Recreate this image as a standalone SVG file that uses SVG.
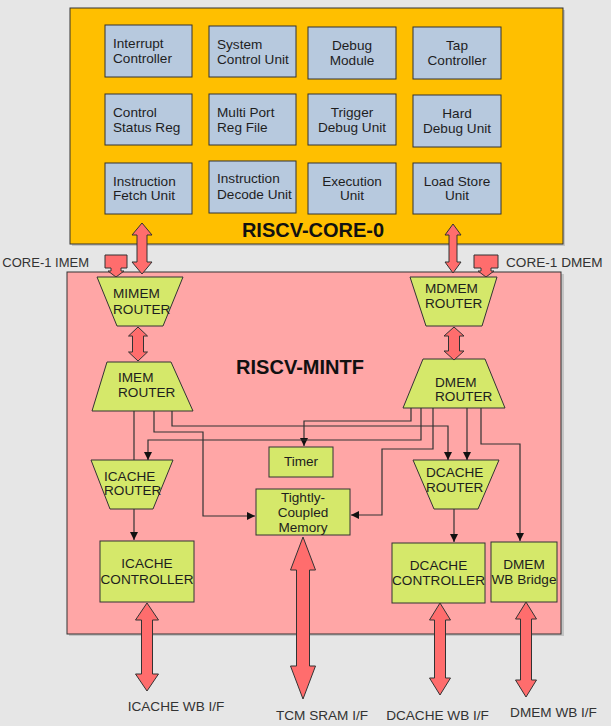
<svg xmlns="http://www.w3.org/2000/svg" width="611" height="726" viewBox="0 0 611 726">
<defs>
<style>
.t{font-family:"Liberation Sans",Arial,sans-serif;font-size:13.6px;fill:#1e1e1e}
.c{text-anchor:middle}
.lbl{font-family:"Liberation Sans",Arial,sans-serif;font-size:13.6px;fill:#333}
.title{font-family:"Liberation Sans",Arial,sans-serif;font-size:20px;font-weight:bold;fill:#111}
.core{fill:#b7c9de;stroke:#333;stroke-width:1}
.grn{fill:#d5e86a;stroke:#333;stroke-width:1}
.big{fill:#ff6d6d;stroke:#333;stroke-width:1}
.ln{fill:none;stroke:#333;stroke-width:1.2}
</style>
<marker id="ah" viewBox="0 0 10 10" refX="10" refY="5" markerWidth="8" markerHeight="8" markerUnits="userSpaceOnUse" orient="auto">
<path d="M0,0 L10,5 L0,10 z" fill="#111"/>
</marker>
</defs>
<rect x="0" y="0" width="611" height="726" fill="#e6e6e6"/>

<g id="riscv-core-0">
<rect x="72" y="10" width="493" height="236" fill="#c4c4c4"/>
<rect x="70" y="8" width="493" height="236" fill="#ffbf00" stroke="#333" stroke-width="1"/>
<text class="title" x="313" y="237" text-anchor="middle">RISCV-CORE-0</text>
</g>

<g id="interrupt-controller"><rect class="core" x="105" y="25" width="87" height="52"/><text class="t" x="113" y="48">Interrupt</text><text class="t" x="113" y="63">Controller</text></g>
<g id="system-control-unit"><rect class="core" x="209" y="26" width="87" height="51"/><text class="t" x="217" y="49">System</text><text class="t" x="217" y="64">Control Unit</text></g>
<g id="debug-module"><rect class="core" x="308" y="27" width="88" height="52"/><text class="t c" x="352" y="50">Debug</text><text class="t c" x="352" y="65">Module</text></g>
<g id="tap-controller"><rect class="core" x="413" y="27" width="88" height="52"/><text class="t c" x="457" y="50">Tap</text><text class="t c" x="457" y="65">Controller</text></g>
<g id="control-status-reg"><rect class="core" x="105" y="94" width="87" height="51"/><text class="t" x="113" y="117">Control</text><text class="t" x="113" y="132">Status Reg</text></g>
<g id="multi-port-reg-file"><rect class="core" x="209" y="94" width="87" height="51"/><text class="t" x="217" y="117">Multi Port</text><text class="t" x="217" y="132">Reg File</text></g>
<g id="trigger-debug-unit"><rect class="core" x="308" y="94" width="88" height="51"/><text class="t c" x="352" y="117">Trigger</text><text class="t c" x="352" y="132">Debug Unit</text></g>
<g id="hard-debug-unit"><rect class="core" x="413" y="95" width="88" height="52"/><text class="t c" x="457" y="118">Hard</text><text class="t c" x="457" y="133">Debug Unit</text></g>
<g id="instruction-fetch-unit"><rect class="core" x="105" y="163" width="87" height="51"/><text class="t" x="113" y="186">Instruction</text><text class="t" x="113" y="200">Fetch Unit</text></g>
<g id="instruction-decode-unit"><rect class="core" x="209" y="161" width="87" height="52"/><text class="t" x="217" y="183">Instruction</text><text class="t" x="217" y="199">Decode Unit</text></g>
<g id="execution-unit"><rect class="core" x="308" y="163" width="88" height="51"/><text class="t c" x="352" y="186">Execution</text><text class="t c" x="352" y="200">Unit</text></g>
<g id="load-store-unit"><rect class="core" x="413" y="163" width="88" height="51"/><text class="t c" x="457" y="186">Load Store</text><text class="t c" x="457" y="200">Unit</text></g>

<g id="riscv-mintf">
<rect x="69" y="274" width="495" height="362" fill="#c4c4c4"/>
<rect x="67" y="272" width="494" height="362" fill="#ffa6a6" stroke="#333" stroke-width="1"/>
<text class="title" x="300" y="374" text-anchor="middle">RISCV-MINTF</text>
</g>

<g id="core-1-imem">
<polygon class="big" points="105,255 127,255 127,268 121,268 121,271 124,271 116,277 108,271 111,271 111,268 105,268"/>
<text class="lbl" x="89" y="267" text-anchor="end" style="font-size:13px">CORE-1 IMEM</text>
</g>
<g id="core-1-dmem">
<polygon class="big" points="474,255 498,255 498,268 491,268 491,271 494,271 486,277 478,271 481,271 481,268 474,268"/>
<text class="lbl" x="506" y="267">CORE-1 DMEM</text>
</g>

<g id="mimem-router"><polygon class="grn" points="97,277 183,277 163,326 117,326"/><text class="t" x="113" y="298">MIMEM</text><text class="t" x="113" y="314">ROUTER</text></g>
<g id="imem-router"><polygon class="grn" points="107,362 171,362 193,411 92,411"/><text class="t" x="118" y="382">IMEM</text><text class="t" x="118" y="397">ROUTER</text></g>
<g id="mdmem-router"><polygon class="grn" points="410,277 497,277 482,326 426,326"/><text class="t" x="425" y="293">MDMEM</text><text class="t" x="425" y="308">ROUTER</text></g>
<g id="dmem-router"><polygon class="grn" points="423,359 485,359 505,408 403,408"/><text class="t" x="435" y="387">DMEM</text><text class="t" x="435" y="401">ROUTER</text></g>
<g id="icache-router"><polygon class="grn" points="91,460 173,460 153,509 110,509"/><text class="t" x="104" y="481">ICACHE</text><text class="t" x="104" y="495">ROUTER</text></g>
<g id="dcache-router"><polygon class="grn" points="413,460 499,460 478,509 434,509"/><text class="t" x="426" y="477">DCACHE</text><text class="t" x="426" y="492">ROUTER</text></g>
<g id="timer"><rect class="grn" x="269" y="447" width="64" height="30"/><text class="t c" x="301" y="466">Timer</text></g>
<g id="tcm"><rect class="grn" x="256" y="489" width="94" height="46"/><text class="t c" x="303" y="502">Tightly-</text><text class="t c" x="303" y="517">Coupled</text><text class="t c" x="303" y="532">Memory</text></g>
<g id="icache-controller"><rect class="grn" x="100" y="541" width="94" height="61"/><text class="t c" x="147" y="568">ICACHE</text><text class="t c" x="147" y="584">CONTROLLER</text></g>
<g id="dcache-controller"><rect class="grn" x="392" y="543" width="93" height="60"/><text class="t c" x="438.5" y="570">DCACHE</text><text class="t c" x="438.5" y="585">CONTROLLER</text></g>
<g id="dmem-wb-bridge"><rect class="grn" x="491" y="542" width="66" height="60"/><text class="t c" x="524" y="569">DMEM</text><text class="t c" x="524" y="584">WB Bridge</text></g>

<g id="connectors">
<polygon class="big" points="142,223 152,235 147,235 147,262 152,262 142,274 132,262 137,262 137,235 132,235"/>
<polygon class="big" points="453,224 461,235 457,235 457,262 461,262 453,273 445,262 449,262 449,235 445,235"/>
<polygon class="big" points="138,327 147.5,336 143.5,336 143.5,352 147.5,352 138,361 128.5,352 132.5,352 132.5,336 128.5,336"/>
<polygon class="big" points="454,327 464,336 459.5,336 459.5,351 464,351 454,360 444,351 448.5,351 448.5,336 444,336"/>
<path class="ln" d="M134,411 V460"/>
<path class="ln" d="M154,411 V432 H203 V516 H255" marker-end="url(#ah)"/>
<path class="ln" d="M172,411 V426 H448 V460" marker-end="url(#ah)"/>
<path class="ln" d="M411,408 V421 H304 V446" marker-end="url(#ah)"/>
<path class="ln" d="M421,408 V440 H148 V460" marker-end="url(#ah)"/>
<path class="ln" d="M433,408 V449 H382 V515 H351" marker-end="url(#ah)"/>
<path class="ln" d="M467,408 V460" marker-end="url(#ah)"/>
<path class="ln" d="M481,408 V444 H520 V541" marker-end="url(#ah)"/>
<path class="ln" d="M134,509 V540" marker-end="url(#ah)"/>
<path class="ln" d="M454,509 V542" marker-end="url(#ah)"/>
<polygon class="big" points="147,603 158.5,620 152.5,620 152.5,674 158.5,674 147,691 135.5,674 141.5,674 141.5,620 135.5,620"/>
<polygon class="big" points="303,537 315.5,570 309.5,570 309.5,666 315.5,666 303,699 290.5,666 296.5,666 296.5,570 290.5,570"/>
<polygon class="big" points="440,603 450.5,620 445.5,620 445.5,678 450.5,678 440,695 429.5,678 434.5,678 434.5,620 429.5,620"/>
<polygon class="big" points="526,602 536.5,619 531.5,619 531.5,680 536.5,680 526,697 515.5,680 520.5,680 520.5,619 515.5,619"/>
</g>

<text class="lbl" x="176" y="711" text-anchor="middle">ICACHE WB I/F</text>
<text class="lbl" x="322" y="720" text-anchor="middle">TCM SRAM I/F</text>
<text class="lbl" x="437.5" y="720" text-anchor="middle">DCACHE WB I/F</text>
<text class="lbl" x="553.5" y="717" text-anchor="middle">DMEM WB I/F</text>
</svg>
